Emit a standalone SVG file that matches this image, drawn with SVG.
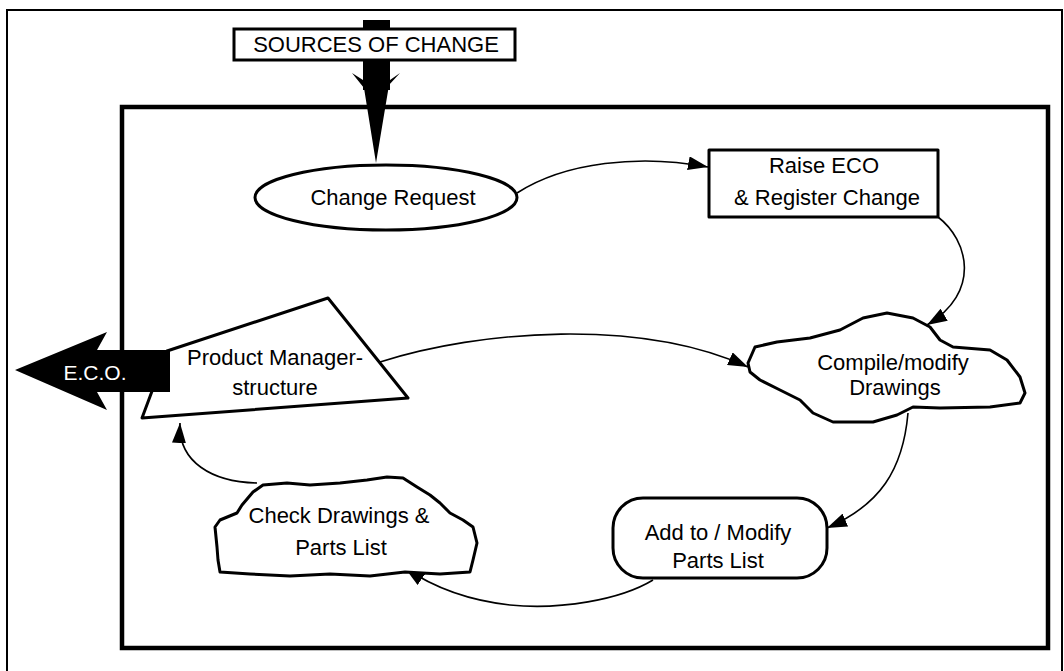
<svg xmlns="http://www.w3.org/2000/svg" width="1064" height="671" viewBox="0 0 1064 671">
<style>
  text { font-family: "Liberation Sans", Arial, sans-serif; font-size: 22px; fill: #000; text-anchor: middle; }
  .node { fill: #fff; stroke: #000; stroke-width: 3; stroke-linejoin: round; }
  .conn { fill: none; stroke: #000; stroke-width: 1.6; marker-end: url(#ah); }
</style>
<defs>
  <marker id="ah" markerUnits="userSpaceOnUse" markerWidth="22" markerHeight="14" refX="20" refY="7" orient="auto">
    <path d="M0,0 L20,7 L0,14 Z" fill="#000"/>
  </marker>
</defs>
<rect width="1064" height="671" fill="#fff"/>
<g id="frames">
  <rect x="7" y="10" width="1055" height="680" fill="none" stroke="#000" stroke-width="2"/>
  <rect x="122" y="107" width="926" height="541" fill="none" stroke="#000" stroke-width="4.5"/>
</g>
<g id="sources">
  <rect x="363" y="20" width="27" height="70" fill="#000"/>
  <polygon points="352,73 364,88 376,163 389,85 400,73 390,80 363,80" fill="#000"/>
  <rect x="234" y="29" width="281" height="31" fill="#fff" stroke="#000" stroke-width="3"/>
  <text x="376" y="52">SOURCES OF CHANGE</text>
</g>
<g id="connectors">
  <path class="conn" d="M517,193 C565,162 640,154 708,167"/>
  <path class="conn" d="M938,217 C968,240 982,292 927,325"/>
  <path class="conn" d="M380,362 C480,330 640,318 748,367"/>
  <path class="conn" d="M908,413 C903,470 880,505 827,528"/>
  <path class="conn" d="M653,580 C620,600 560,610 510,605 C465,600 430,585 405,568"/>
  <path class="conn" d="M257,483 C212,482 178,462 180,423"/>
</g>
<g id="change-request">
  <ellipse class="node" cx="386" cy="197.5" rx="131" ry="32.5"/>
  <text x="393" y="205">Change Request</text>
</g>
<g id="raise-eco">
  <rect class="node" x="709" y="150" width="229" height="67" stroke-width="3.5" stroke-linejoin="miter"/>
  <text x="824" y="173">Raise ECO</text>
  <text x="827" y="205">&amp; Register Change</text>
</g>
<g id="compile">
  <path class="node" d="M748,363 L755,347 L777,342 L810,338 L840,330 L863,318 L887,313 L913,318 L930,327 L940,340 L953,347 L990,350 L1007,360 L1020,377 L1025,393 L1020,403 L990,407 L940,408 L913,407 L897,415 L873,422 L833,422 L813,413 L800,400 L780,390 L760,380 L750,372 Z"/>
  <text x="893" y="370">Compile/modify</text>
  <text x="895" y="395">Drawings</text>
</g>
<g id="add-modify">
  <rect class="node" x="613" y="498" width="214" height="80" rx="30" ry="30"/>
  <text x="718" y="540">Add to / Modify</text>
  <text x="718" y="568">Parts List</text>
</g>
<g id="check">
  <path class="node" d="M215,527 L220,520 L237,513 L242,505 L253,492 L263,485 L287,483 L310,485 L340,483 L367,480 L387,477 L403,478 L417,487 L430,495 L440,503 L450,513 L463,520 L473,527 L477,543 L473,560 L470,572 L440,574 L405,572 L370,576 L330,574 L290,576 L250,574 L220,572 L218,560 L217,547 Z"/>
  <text x="339" y="523">Check Drawings &amp;</text>
  <text x="341" y="555">Parts List</text>
</g>
<g id="product-manager">
  <polygon class="node" points="167,351 328,298 408,398 142,418"/>
  <text x="275" y="365">Product Manager-</text>
  <text x="275" y="395">structure</text>
</g>
<g id="eco">
  <polygon points="15,370 107,332 97,350 170,350 170,392 97,392 107,410" fill="#000"/>
  <text x="95" y="380" style="fill:#fff;font-size:21px">E.C.O.</text>
</g>
</svg>
